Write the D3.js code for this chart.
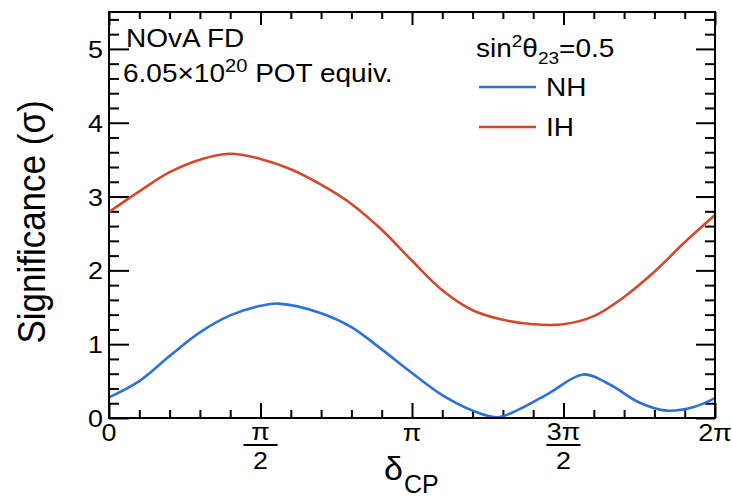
<!DOCTYPE html>
<html><head><meta charset="utf-8">
<script src="https://cdn.jsdelivr.net/npm/d3@7/dist/d3.min.js"></script>
<style>body{margin:0;background:#fff}svg{display:block}text{font-family:"Liberation Sans",Arial,Helvetica,sans-serif;fill:#000}</style>
</head><body><svg id="c" width="732" height="497"></svg>
<script>
// δCP in units of π
const ihDelta = [0,0.1,0.2,0.3,0.4,0.5,0.6,0.7,0.8,0.9,1.0,1.1,1.2,1.3,1.4,1.5,1.6,1.7,1.8,1.9,2.0];
const ihSig   = [2.79,3.07,3.33,3.50,3.58,3.51,3.37,3.16,2.90,2.55,2.13,1.73,1.46,1.33,1.27,1.27,1.38,1.64,1.98,2.38,2.75];
const nhDelta = [0,0.1,0.2,0.3,0.4,0.5,0.56,0.7,0.8,0.9,1.0,1.1,1.2,1.28,1.35,1.45,1.565,1.65,1.75,1.84,1.93,2.0];
const nhSig   = [0.28,0.50,0.84,1.16,1.39,1.52,1.55,1.42,1.23,0.93,0.61,0.31,0.10,0.01,0.11,0.33,0.59,0.46,0.21,0.10,0.15,0.27];
const seriesNames = ["NH","IH"];
const seriesColors = ["#2c72d2","#d2482a"];
const xMajorPi = [0,0.5,1,1.5,2];
const xMajorNum = ["0","π","π","3π","2π"];
const xMajorDen = [null,"2",null,"2",null];
const yMajor = [0,1,2,3,4,5];
const yMajorLabels = ["0","1","2","3","4","5"];

const PI = Math.PI;
const L=109, R=715, T=12, B=418;
const SX = 1.12; // horizontal stretch of fonts in the reference
const svg = d3.select("#c");
const x = d3.scaleLinear().domain([0,2*PI]).range([L,R]);
const y = d3.scaleLinear().domain([0,5.5]).range([B,T]);

const xMinor = d3.range(0,21).filter(k=>k%5!==0).map(k=>k*PI/10);
const xMaj = xMajorPi.map(v=>v*PI);
const yMinor = d3.range(0,28).filter(k=>k%5!==0).map(k=>k*0.2);

function ticks(axisFn, vals, size, tx, ty){
  const g = svg.append("g").attr("transform",`translate(${tx},${ty})`)
    .call(axisFn.tickValues(vals).tickSize(size).tickSizeOuter(0).tickFormat(""));
  g.select(".domain").remove();
  g.selectAll("line").attr("stroke","#000").attr("stroke-width",2);
}
ticks(d3.axisBottom(x), xMinor, -8, 0, B);
ticks(d3.axisBottom(x), xMaj, -15, 0, B);
ticks(d3.axisTop(x), xMinor, -7, 0, T);
ticks(d3.axisTop(x), xMaj, -13, 0, T);
ticks(d3.axisLeft(y), yMinor, -10, L, 0);
ticks(d3.axisLeft(y), yMajor, -20, L, 0);
ticks(d3.axisRight(y), yMinor, -10, R, 0);
ticks(d3.axisRight(y), yMajor, -19, R, 0);

// curves
svg.append("clipPath").attr("id","clip").append("rect").attr("x",L).attr("y",T).attr("width",R-L).attr("height",B-T);
const line = d3.line().x(d=>x(d[0]*PI)).y(d=>y(d[1])).curve(d3.curveCatmullRom.alpha(0.5));
const data = [nhDelta.map((d,i)=>[d,nhSig[i]]), ihDelta.map((d,i)=>[d,ihSig[i]])];
data.forEach((pts,i)=>{
  svg.append("path").attr("d",line(pts)).attr("fill","none").attr("stroke",seriesColors[i])
    .attr("stroke-width",2.6).attr("clip-path","url(#clip)");
});

// frame
svg.append("rect").attr("x",L).attr("y",T).attr("width",R-L).attr("height",B-T)
  .attr("fill","none").attr("stroke","#000").attr("stroke-width",2);

function txt(px,py,size,anchor){
  return svg.append("text").attr("transform",`translate(${px},${py}) scale(${SX},1)`)
    .attr("font-size",size).attr("text-anchor",anchor||"start");
}

// y tick labels
yMajor.forEach((v,i)=>{
  txt(L-6, y(v)+9, 24, "end").text(yMajorLabels[i]);
});
// x tick labels
xMaj.forEach((v,i)=>{
  const cx = x(v);
  if(xMajorDen[i]===null){
    txt(cx, 441, 24, "middle").text(xMajorNum[i]);
  } else {
    txt(cx, 440, 24, "middle").text(xMajorNum[i]);
    svg.append("line").attr("x1",cx-17).attr("x2",cx+17).attr("y1",445).attr("y2",445)
      .attr("stroke","#000").attr("stroke-width",2);
    txt(cx, 469, 24, "middle").text(xMajorDen[i]);
  }
});

// axis titles
const xt = svg.append("text").attr("transform",`translate(384,480)`).attr("font-size",34);
xt.append("tspan").text("δ");
xt.append("tspan").attr("font-size",25).attr("dy",13).attr("dx",1).text("CP");
svg.append("text").attr("transform",`translate(45,222) scale(${SX},1) rotate(-90)`)
  .attr("font-size",35).attr("text-anchor","middle").text("Significance (σ)");

// annotations
txt(126, 47, 25).text("NOvA FD");
const t2 = txt(123, 82, 25);
t2.append("tspan").text("6.05×10");
t2.append("tspan").attr("font-size",18).attr("dy",-10).text("20");
t2.append("tspan").attr("dy",10).text(" POT equiv.");

// legend
const lt = txt(476, 57, 25);
lt.append("tspan").text("sin");
lt.append("tspan").attr("font-size",17).attr("dy",-10).text("2");
lt.append("tspan").attr("dy",10).text("θ");
lt.append("tspan").attr("font-size",17).attr("dy",7).text("23");
lt.append("tspan").attr("dy",-7).text("=0.5");
const legY = [87,127];
seriesNames.forEach((n,i)=>{
  svg.append("line").attr("x1",479).attr("x2",536).attr("y1",legY[i]).attr("y2",legY[i])
    .attr("stroke",seriesColors[i]).attr("stroke-width",2.6);
  txt(546, legY[i]+9, 25).text(n);
});
</script></body></html>
